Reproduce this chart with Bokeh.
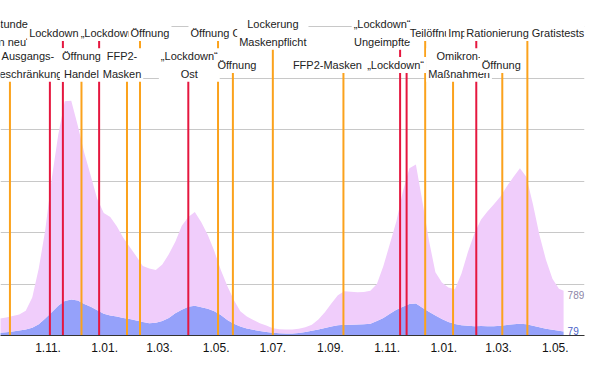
import pandas as pd
from bokeh.plotting import figure
from bokeh.models import ColumnDataSource, FixedTicker, Label, Range1d
from bokeh.embed import file_html
from bokeh.resources import INLINE

# ---------------- data ----------------
# weekly readings (Thursdays from 3 Sep 2020) plus the last day shown
dates = list(pd.date_range("2020-09-03", periods=88, freq="7D")) + [pd.Timestamp("2022-05-10")]

# Normalstation (stacked on top of ICU)
normal = [250, 275, 285, 300, 315, 365, 590, 1080, 1720, 2600,
          3320, 3880, 3860, 3400, 2940, 2540, 2160, 1960, 1910, 1750,
          1560, 1400, 1250, 1090, 1060, 1020, 1100, 1240, 1390, 1630,
          1740, 1820, 1650, 1430, 1170, 870, 660, 460, 295, 235,
          190, 155, 125, 85, 75, 75, 75, 80, 90, 120,
          195, 305, 445, 580, 650, 640, 625, 625, 640, 720,
          1010, 1360, 1720, 2240, 2640, 2700, 2060, 1390, 840, 710,
          670, 675, 1000, 1430, 1800, 2065, 2230, 2370, 2510, 2695,
          2860, 3020, 2860, 2360, 1790, 1340, 990, 820, 789]

# Intensivstation
icu = [50, 55, 65, 80, 95, 115, 150, 220, 330, 450,
       580, 670, 700, 680, 610, 560, 490, 420, 390, 370,
       340, 320, 290, 260, 240, 250, 280, 340, 430, 500,
       560, 580, 550, 520, 470, 400, 300, 230, 175, 135,
       110, 85, 70, 55, 45, 40, 40, 50, 70, 90,
       115, 145, 175, 200, 210, 210, 215, 220, 230, 280,
       340, 420, 500, 560, 610, 620, 540, 460, 390, 320,
       260, 225, 200, 190, 180, 185, 180, 180, 190, 205,
       220, 230, 220, 190, 160, 130, 110, 90, 79]

# events: date, type (close = red, open = orange), label, label row
event_dates = ["2020-09-21", "2020-11-03", "2020-11-17", "2020-12-07", "2020-12-26",
               "2021-01-25", "2021-02-08", "2021-04-01", "2021-05-03", "2021-05-19",
               "2021-07-01", "2021-09-15", "2021-11-15", "2021-11-22", "2021-12-12",
               "2022-01-11", "2022-02-05", "2022-03-05", "2022-04-01"]
event_types = ["open", "close", "close", "open", "close",
               "open", "open", "close", "open", "open",
               "open", "open", "close", "close", "open",
               "open", "close", "open", "open"]
event_labels = ["Sperrstunde\n\u201eRegeln neu\u201c", "Ausgangs-\nbeschr\u00e4nkung", "Lockdown",
                "\u00d6ffnung\nHandel", "\u201eLockdown\u201c",
                "FFP2-\nMasken", "\u00d6ffnung", "\u201eLockdown\u201c\nOst", "\u00d6ffnung Ost",
                "\u00d6ffnung", "Lockerung\nMaskenpflicht", "FFP2-Masken",
                "\u201eLockdown\u201c\nUngeimpfte", "\u201eLockdown\u201c", "Teil\u00f6ffnung",
                "Omikron-\nMa\u00dfnahmen", "Impfpflicht", "\u00d6ffnung",
                "Rationierung Gratistests"]
event_rows = ["A", "B", "A", "B", "A", "B", "A", "B", "A", "B",
              "A", "B", "A", "B", "A", "B", "A", "B", "A"]

tick_dates = ["2020-09-01", "2020-11-01", "2021-01-01", "2021-03-01", "2021-05-01",
              "2021-07-01", "2021-09-01", "2021-11-01", "2022-01-01", "2022-03-01",
              "2022-05-01"]
tick_labels = ["1.09.", "1.11.", "1.01.", "1.03.", "1.05.", "1.07.", "1.09.", "1.11.",
               "1.01.", "1.03.", "1.05."]

# ---------------- style / layout ----------------
PINK = "#f0cdfb"
BLUE = "#95a1fa"
RED = "#e5173f"
ORANGE = "#fba21c"
FONT = "Liberation Sans"
ROW_Y = {"A": 5874, "B": 5252}
LABEL_DX = [-12, -22, -9, 0, 10, -5, 10, 1, 2, 4,
            0, -16, -18, -11, 11, 6, -3, -1, -2]
X_START = pd.Timestamp("2020-09-10 20:00")
X_END = pd.Timestamp("2022-06-01 12:00")


def ms(d):
    return pd.Timestamp(d).value / 1e6


src = ColumnDataSource(dict(date=dates, normal=normal, icu=icu))

p = figure(width=596, height=365, output_backend="svg", toolbar_location=None,
           x_axis_type="datetime", y_axis_location=None,
           x_range=Range1d(X_START, X_END),
           y_range=Range1d(0, 6505),
           min_border_left=0, min_border_right=12, min_border_top=0, min_border_bottom=30)
p.outline_line_color = None
p.background_fill_color = "white"
p.border_fill_color = "white"

p.xgrid.visible = False
p.ygrid.ticker = FixedTicker(ticks=[1000, 2000, 3000, 4000, 5000, 6000])
p.ygrid.grid_line_color = "#c8c8c8"
p.ygrid.grid_line_width = 1

p.varea_stack(["icu", "normal"], x="date", color=[BLUE, PINK], source=src)

ev_src = ColumnDataSource(dict(
    x=[pd.Timestamp(d) for d in event_dates],
    y0=[0] * len(event_dates),
    y1=[ROW_Y[r] for r in event_rows],
    color=[RED if t == "close" else ORANGE for t in event_types],
))
p.segment(x0="x", y0="y0", x1="x", y1="y1", color="color", line_width=2, source=ev_src)

for d, lab, r, dx in zip(event_dates, event_labels, event_rows, LABEL_DX):
    p.add_layout(Label(x=ms(d), y=ROW_Y[r], text=lab, x_offset=dx,
                       text_align="center", text_baseline="middle",
                       text_font=FONT, text_font_size="11px", text_color="#222222",
                       text_line_height=1.45,
                       background_fill_color="white", background_fill_alpha=1.0,
                       padding=2))

# end values
p.add_layout(Label(x=ms(dates[-1]), y=normal[-1], text=str(normal[-1]), x_offset=4,
                   text_align="left", text_baseline="middle", text_font=FONT,
                   text_font_size="10px", text_color="#8d86a8"))
p.add_layout(Label(x=ms(dates[-1]), y=icu[-1], text=str(icu[-1]), x_offset=4,
                   text_align="left", text_baseline="middle", text_font=FONT,
                   text_font_size="10px", text_color="#4a62c8"))

tick_ms = [ms(d) for d in tick_dates]
p.xaxis.ticker = FixedTicker(ticks=tick_ms)
p.xaxis.major_label_overrides = {t: l for t, l in zip(tick_ms, tick_labels)}
p.xaxis.major_tick_line_color = None
p.xaxis.major_tick_out = 0
p.xaxis.major_tick_in = 0
p.xaxis.minor_tick_line_color = None
p.xaxis.minor_tick_out = 0
p.xaxis.axis_line_color = "#333333"
p.xaxis.major_label_text_font = FONT
p.xaxis.major_label_text_font_size = "12px"
p.xaxis.major_label_text_color = "#111111"
p.xaxis.major_label_standoff = 7

open("out.html", "w").write(file_html(p, INLINE))
